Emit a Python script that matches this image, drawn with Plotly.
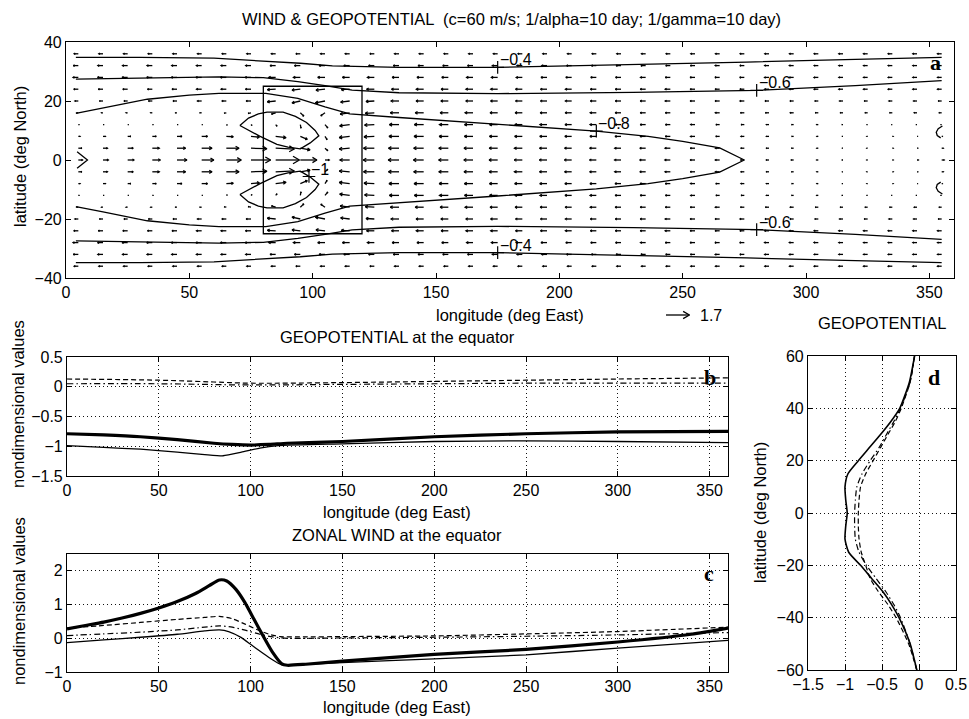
import math
import plotly.graph_objects as go
import plotly.figure_factory as ff

# ---------------------------------------------------------------- data
# wind vectors on the model grid (northern half; southern half is the mirror image)
GRID_LON = [5, 15, 25, 35, 45, 55, 65, 75, 85, 95, 105, 115, 125, 135, 145, 155, 165, 175,
            185, 195, 205, 215, 225, 235, 245, 255, 265, 275, 285, 295, 305, 315, 325, 335, 345, 355]
GRID_LAT_N = [0, 4, 8, 12, 16, 20, 24, 28, 32, 36]

U_N = [
    [0.30, 0.38, 0.47, 0.58, 0.72, 0.88, 1.08, 1.42, 1.72, 1.20, 0.30, -0.70, -0.80, -0.78, -0.74, -0.70, -0.66, -0.62,
     -0.58, -0.55, -0.52, -0.49, -0.46, -0.43, -0.39, -0.35, -0.31, -0.27, -0.22, -0.17, -0.12, -0.08, -0.06, 0.06, 0.10, 0.18],
    [0.25, 0.32, 0.40, 0.50, 0.62, 0.75, 0.92, 1.15, 1.35, 0.70, 0.20, -0.75, -0.78, -0.76, -0.72, -0.69, -0.65, -0.61,
     -0.57, -0.54, -0.51, -0.48, -0.45, -0.42, -0.38, -0.34, -0.30, -0.26, -0.21, -0.16, -0.11, -0.07, -0.06, 0.06, 0.08, 0.12],
    [0.12, 0.17, 0.22, 0.28, 0.35, 0.42, 0.50, 0.60, 0.75, 0.50, 0.15, -0.75, -0.74, -0.72, -0.69, -0.66, -0.62, -0.59,
     -0.55, -0.52, -0.49, -0.46, -0.43, -0.40, -0.36, -0.32, -0.28, -0.24, -0.19, -0.14, -0.10, -0.07, -0.06, 0.06, 0.06, 0.08],
    [0.07, 0.07, 0.07, 0.07, 0.07, 0.07, 0.07, 0.07, 0.10, 0.05, 0.20, -0.72, -0.70, -0.69, -0.67, -0.64, -0.61, -0.58,
     -0.54, -0.51, -0.48, -0.45, -0.42, -0.39, -0.35, -0.31, -0.27, -0.23, -0.19, -0.15, -0.11, -0.08, -0.07, -0.07, -0.07, -0.07],
    [-0.10, -0.11, -0.12, -0.12, -0.13, -0.14, -0.15, -0.20, -0.30, 0.25, -0.30, -0.68, -0.65, -0.63, -0.61, -0.59, -0.57, -0.55,
     -0.52, -0.49, -0.47, -0.44, -0.42, -0.39, -0.36, -0.34, -0.31, -0.28, -0.26, -0.24, -0.22, -0.21, -0.20, -0.20, -0.20, -0.20],
    [-0.25, -0.26, -0.27, -0.28, -0.29, -0.30, -0.30, -0.35, -0.60, -0.60, -0.70, -0.65, -0.60, -0.57, -0.55, -0.54, -0.52, -0.51,
     -0.49, -0.47, -0.45, -0.43, -0.41, -0.39, -0.37, -0.35, -0.33, -0.31, -0.29, -0.27, -0.26, -0.25, -0.25, -0.25, -0.25, -0.25],
    [-0.33, -0.34, -0.35, -0.35, -0.36, -0.37, -0.38, -0.40, -0.60, -0.60, -0.65, -0.60, -0.56, -0.54, -0.53, -0.52, -0.51, -0.50,
     -0.49, -0.47, -0.45, -0.43, -0.41, -0.39, -0.37, -0.35, -0.33, -0.32, -0.31, -0.30, -0.30, -0.30, -0.30, -0.30, -0.30, -0.30],
    [-0.38, -0.39, -0.40, -0.40, -0.41, -0.41, -0.42, -0.42, -0.50, -0.50, -0.52, -0.52, -0.50, -0.49, -0.48, -0.47, -0.46, -0.45,
     -0.44, -0.43, -0.42, -0.40, -0.39, -0.37, -0.36, -0.35, -0.34, -0.33, -0.32, -0.31, -0.31, -0.30, -0.30, -0.30, -0.30, -0.30],
    [-0.36, -0.37, -0.37, -0.38, -0.38, -0.38, -0.38, -0.38, -0.40, -0.42, -0.42, -0.42, -0.41, -0.41, -0.40, -0.40, -0.39, -0.38,
     -0.38, -0.37, -0.36, -0.35, -0.35, -0.34, -0.33, -0.33, -0.32, -0.32, -0.31, -0.31, -0.30, -0.30, -0.30, -0.30, -0.30, -0.30],
    [-0.30, -0.30, -0.30, -0.30, -0.30, -0.30, -0.30, -0.30, -0.31, -0.32, -0.32, -0.32, -0.32, -0.32, -0.32, -0.31, -0.31, -0.31,
     -0.31, -0.30, -0.30, -0.30, -0.30, -0.30, -0.30, -0.30, -0.30, -0.30, -0.30, -0.30, -0.30, -0.30, -0.30, -0.30, -0.30, -0.30],
]

# meridional wind is only noticeable around the heating; zero elsewhere
V_BLOCK_LON = [65, 75, 85, 95, 105, 115, 125]
V_BLOCK = [
    [0.00, 0.00, 0.00, 0.00, 0.00, 0.00, 0.00],
    [0.00, -0.03, -0.05, -0.10, -0.15, -0.05, 0.00],
    [-0.02, -0.05, -0.08, -0.18, -0.20, -0.07, -0.03],
    [-0.03, -0.05, -0.10, -0.22, -0.20, -0.08, -0.03],
    [-0.02, -0.03, -0.08, -0.20, -0.18, -0.08, -0.03],
    [0.00, 0.00, -0.05, -0.12, -0.12, -0.07, -0.03],
    [0.00, 0.00, -0.03, -0.06, -0.06, -0.03, 0.00],
    [0.00, 0.00, 0.00, 0.00, 0.00, 0.00, 0.00],
    [0.00, 0.00, 0.00, 0.00, 0.00, 0.00, 0.00],
    [0.00, 0.00, 0.00, 0.00, 0.00, 0.00, 0.00],
]
REF_WIND = 1.7

# heating region
HEAT_LON = [80, 120]
HEAT_LAT = [-25, 25]

# geopotential contours (northern branches, mirrored to the south)
C04_LON = [4, 30, 60, 81, 95, 108, 120, 135, 175, 230, 276, 320, 355]
C04_LAT = [34.8, 34.8, 34.5, 33.6, 32.8, 31.9, 31.6, 31.4, 31.4, 32.3, 33.2, 34.1, 34.8]
C06_LON = [4, 30, 62, 80, 94, 105, 116, 135, 175, 230, 280, 320, 355]
C06_LAT = [27.4, 27.8, 28.2, 27.9, 26.6, 25.2, 23.7, 22.8, 22.5, 22.9, 23.6, 25.2, 26.9]
C08_LON = [4, 15, 33, 50, 62, 81, 94, 105, 115, 135, 175, 215, 236, 250, 265, 275]
C08_LAT = [15.8, 17.6, 20.6, 22.0, 22.6, 22.6, 20.9, 18.0, 15.6, 14.4, 12.2, 9.8, 8.0, 6.3, 4.1, 0.0]
C08_TIP_LON = [4.5, 8.7, 4.5]
C08_TIP_LAT = [2.8, 0.0, -2.8]
C08_EDGE_LON = [355.3, 353.6, 352.8, 353.2, 354.6]
C08_EDGE_LAT = [11.5, 10.6, 9.4, 8.3, 7.5]
C10_LON = [70.5, 74, 78, 81.5, 88, 93, 97.5, 101, 102.5, 99, 95, 90, 85.5, 78.5, 70.5]
C10_LAT = [11.7, 14.2, 15.6, 16.2, 16.2, 14.8, 12.7, 10.0, 8.2, 5.8, 3.8, 4.4, 5.3, 8.1, 11.7]

# contour labels: (text, lon, lat)
CONTOUR_LABELS = [
    ("\u22120.4", 175, 31.4), ("\u22120.4", 175, -31.4),
    ("\u22120.6", 280, 23.6), ("\u22120.6", 280, -23.6),
    ("\u22120.8", 215, 9.8),
    ("\u22121", 98.5, -5.6),
]

# geopotential at the equator
B_LON_THICK = [0, 20, 40, 60, 80, 90, 100, 110, 120, 150, 200, 250, 300, 360]
B_THICK = [-0.79, -0.81, -0.84, -0.89, -0.95, -0.97, -0.98, -0.97, -0.95, -0.92, -0.84, -0.79, -0.76, -0.75]
B_LON_THIN = [0, 20, 40, 60, 75, 85, 95, 105, 115, 150, 200, 250, 300, 360]
B_THIN = [-0.99, -1.02, -1.05, -1.10, -1.14, -1.16, -1.10, -1.03, -0.99, -0.96, -0.92, -0.91, -0.92, -0.94]
B_LON_DASH = [0, 50, 80, 100, 150, 200, 250, 300, 360]
B_DASH = [0.13, 0.11, 0.08, 0.06, 0.07, 0.09, 0.11, 0.13, 0.15]
B_LON_DASHDOT = [0, 50, 100, 150, 200, 250, 300, 360]
B_DASHDOT = [0.05, 0.05, 0.03, 0.04, 0.05, 0.06, 0.06, 0.06]

# zonal wind at the equator
C_LON_THICK = [0, 10, 20, 30, 40, 50, 60, 70, 78, 83, 87, 92, 97, 102, 107, 112, 117, 120, 130, 150, 200, 250, 300, 340, 360]
C_THICK = [0.28, 0.38, 0.48, 0.60, 0.74, 0.90, 1.09, 1.33, 1.58, 1.73, 1.70, 1.45, 1.05, 0.55, 0.05, -0.42, -0.76, -0.80,
           -0.77, -0.68, -0.48, -0.33, -0.11, 0.12, 0.30]
C_LON_THIN = [0, 20, 40, 60, 75, 83, 88, 95, 100, 105, 110, 115, 118, 130, 150, 200, 250, 300, 360]
C_THIN = [-0.13, -0.05, 0.03, 0.12, 0.22, 0.25, 0.20, 0.02, -0.18, -0.38, -0.57, -0.74, -0.80, -0.77, -0.72, -0.61, -0.49, -0.29, -0.06]
C_LON_DASH = [0, 20, 40, 60, 75, 83, 90, 97, 103, 110, 116, 130, 150, 200, 250, 300, 360]
C_DASH = [0.30, 0.38, 0.47, 0.56, 0.62, 0.65, 0.58, 0.42, 0.27, 0.12, 0.05, 0.04, 0.05, 0.07, 0.13, 0.20, 0.33]
C_LON_DASHDOT = [0, 20, 40, 60, 75, 83, 90, 97, 105, 112, 120, 150, 200, 250, 300, 360]
C_DASHDOT = [0.08, 0.13, 0.18, 0.25, 0.33, 0.37, 0.33, 0.24, 0.12, 0.04, 0.00, 0.01, 0.03, 0.06, 0.10, 0.17]

# meridional geopotential profiles
D_LAT = [-60, -50, -40, -35, -30, -25, -20, -15, -10, -5, 0, 5, 10, 15, 20, 25, 30, 35, 40, 50, 60]
D_SOLID = [-0.03, -0.12, -0.27, -0.37, -0.49, -0.64, -0.79, -0.95, -1.00, -0.99, -0.97, -0.99, -1.00, -0.96, -0.82,
           -0.67, -0.52, -0.38, -0.26, -0.13, -0.06]
D_DASH = [-0.03, -0.14, -0.31, -0.42, -0.55, -0.66, -0.72, -0.78, -0.81, -0.82, -0.82, -0.81, -0.79, -0.72, -0.62,
          -0.52, -0.42, -0.32, -0.24, -0.12, -0.06]
D_DASHDOT = [-0.03, -0.12, -0.25, -0.34, -0.45, -0.58, -0.71, -0.81, -0.86, -0.87, -0.87, -0.86, -0.84, -0.77, -0.66,
             -0.54, -0.44, -0.34, -0.25, -0.12, -0.06]

# ---------------------------------------------------------------- layout helpers
W, H = 969, 719
FONT = "Liberation Sans, Arial, Helvetica, sans-serif"
SERIF = "Liberation Serif, Times New Roman, serif"
MINUS = "\u2212"
LABEL_SIZE = 16.5


def fx(p):
    return p / W


def fy(p):
    return 1 - p / H


def fmt(v):
    s = ("%g" % abs(v))
    return (MINUS + s) if v < 0 else s


def axis(px0, px1, rng, ticks, vertical=False, grid=False, anchor=None):
    dom = [fy(px1), fy(px0)] if vertical else [fx(px0), fx(px1)]
    return dict(
        domain=dom, range=rng, anchor=anchor, tickmode="array", tickvals=ticks, automargin=False,
        ticktext=[fmt(t) for t in ticks], ticks="inside", ticklen=5, tickwidth=1, tickcolor="black",
        showline=True, linecolor="black", linewidth=1.1, mirror="ticks",
        showgrid=grid, gridcolor="#111", gridwidth=0.9, griddash="1px,3px", zeroline=False,
        tickfont=dict(family=FONT, size=16, color="black"), fixedrange=True,
    )


fig = go.Figure()

# ---------------------------------------------------------------- panel a
qx, qy, qu, qv = [], [], [], []
for i, lat in enumerate(GRID_LAT_N):
    for sgn in ((1,) if lat == 0 else (1, -1)):
        for j, lon in enumerate(GRID_LON):
            vv = V_BLOCK[i][V_BLOCK_LON.index(lon)] if lon in V_BLOCK_LON else 0.0
            qx.append(lon)
            qy.append(sgn * lat)
            qu.append(U_N[i][j])
            qv.append(sgn * vv)

QSCALE = 5.6
ARROW_STYLE = dict(arrow_scale=0.3, angle=math.pi / 7, line=dict(color="black", width=1.3))
quiv = ff.create_quiver(qx, qy, qu, qv, scale=QSCALE, **ARROW_STYLE)
tr = quiv.data[0]
tr.update(xaxis="x", yaxis="y", showlegend=False, hoverinfo="skip")
fig.add_trace(tr)

line_c = dict(color="black", width=1.3)


def add_line(x, y, xa, ya, **kw):
    fig.add_trace(go.Scatter(x=x, y=y, mode="lines", xaxis=xa, yaxis=ya, showlegend=False,
                             hoverinfo="skip", **kw))


for lons, lats in ((C04_LON, C04_LAT), (C06_LON, C06_LAT)):
    add_line(lons, lats, "x", "y", line=line_c)
    add_line(lons, [-v for v in lats], "x", "y", line=line_c)
add_line(C08_LON + C08_LON[-2::-1], C08_LAT + [-v for v in C08_LAT[-2::-1]], "x", "y", line=line_c)
add_line(C08_TIP_LON, C08_TIP_LAT, "x", "y", line=line_c)
add_line(C08_EDGE_LON, C08_EDGE_LAT, "x", "y", line=line_c)
add_line(C08_EDGE_LON, [-v for v in C08_EDGE_LAT], "x", "y", line=line_c)
add_line(C10_LON, C10_LAT, "x", "y", line=line_c)
add_line(C10_LON, [-v for v in C10_LAT], "x", "y", line=line_c)

fig.add_trace(go.Scatter(
    x=[c[1] for c in CONTOUR_LABELS], y=[c[2] for c in CONTOUR_LABELS], mode="markers",
    marker=dict(symbol="cross-thin", size=9, line=dict(color="black", width=1.2)),
    xaxis="x", yaxis="y", showlegend=False, hoverinfo="skip"))

fig.add_shape(type="rect", xref="x", yref="y", x0=HEAT_LON[0], x1=HEAT_LON[1], y0=HEAT_LAT[0], y1=HEAT_LAT[1],
              line=dict(color="black", width=1.3))

# reference arrow on its own small axes with the same degrees-per-pixel scale
REF_BOX = (660, 305, 745, 325)
PX_PER_LON = (954 - 66) / 360.0
PX_PER_LAT = (278 - 42) / 80.0
ref = ff.create_quiver([(666 - REF_BOX[0]) / PX_PER_LON], [0.0], [REF_WIND], [0.0], scale=QSCALE, **ARROW_STYLE)
rtr = ref.data[0]
rtr.update(xaxis="x5", yaxis="y5", showlegend=False, hoverinfo="skip")
fig.add_trace(rtr)

# ---------------------------------------------------------------- panel b
add_line(B_LON_THICK, B_THICK, "x2", "y2", line=dict(color="black", width=3.2, shape="spline", smoothing=0.6))
add_line(B_LON_THIN, B_THIN, "x2", "y2", line=dict(color="black", width=1.3, shape="spline", smoothing=0.5))
add_line(B_LON_DASH, B_DASH, "x2", "y2", line=dict(color="black", width=1.2, dash="5px,3px", shape="spline"))
add_line(B_LON_DASHDOT, B_DASHDOT, "x2", "y2", line=dict(color="black", width=1.2, dash="6px,3px,1.5px,3px", shape="spline"))

# ---------------------------------------------------------------- panel c
add_line(C_LON_THICK, C_THICK, "x3", "y3", line=dict(color="black", width=3.2, shape="spline", smoothing=0.6))
add_line(C_LON_THIN, C_THIN, "x3", "y3", line=dict(color="black", width=1.3, shape="spline", smoothing=0.6))
add_line(C_LON_DASH, C_DASH, "x3", "y3", line=dict(color="black", width=1.2, dash="5px,3px", shape="spline", smoothing=0.6))
add_line(C_LON_DASHDOT, C_DASHDOT, "x3", "y3", line=dict(color="black", width=1.2, dash="6px,3px,1.5px,3px", shape="spline", smoothing=0.6))

# ---------------------------------------------------------------- panel d
add_line(D_SOLID, D_LAT, "x4", "y4", line=dict(color="black", width=1.6, shape="spline", smoothing=0.6))
add_line(D_DASH, D_LAT, "x4", "y4", line=dict(color="black", width=1.2, dash="5px,3px", shape="spline", smoothing=0.6))
add_line(D_DASHDOT, D_LAT, "x4", "y4", line=dict(color="black", width=1.2, dash="6px,3px,1.5px,3px", shape="spline", smoothing=0.6))

# ---------------------------------------------------------------- axes
layout = dict(
    template="none",
    width=W, height=H, margin=dict(l=0, r=0, t=0, b=0, autoexpand=False), paper_bgcolor="white", plot_bgcolor="white",
    showlegend=False, font=dict(family=FONT, size=16, color="black"),
    xaxis=axis(66, 954, [0, 360], [0, 50, 100, 150, 200, 250, 300, 350], anchor="y"),
    yaxis=axis(42, 278, [-40, 40], [-40, -20, 0, 20, 40], vertical=True, anchor="x"),
    xaxis2=axis(67, 728, [0, 360], [0, 50, 100, 150, 200, 250, 300, 350], grid=True, anchor="y2"),
    yaxis2=axis(357, 476, [-1.5, 0.5], [-1.5, -1, -0.5, 0, 0.5], vertical=True, grid=True, anchor="x2"),
    xaxis3=axis(67, 728, [0, 360], [0, 50, 100, 150, 200, 250, 300, 350], grid=True, anchor="y3"),
    yaxis3=axis(554, 672, [-1, 2.5], [-1, 0, 1, 2], vertical=True, grid=True, anchor="x3"),
    xaxis4=axis(808, 956, [-1.5, 0.5], [-1.5, -1, -0.5, 0, 0.5], grid=True, anchor="y4"),
    yaxis4=axis(356, 670, [-60, 60], [-60, -40, -20, 0, 20, 40, 60], vertical=True, grid=True, anchor="x4"),
    xaxis5=dict(domain=[fx(REF_BOX[0]), fx(REF_BOX[2])], range=[0, (REF_BOX[2] - REF_BOX[0]) / PX_PER_LON],
                visible=False, anchor="y5", fixedrange=True, automargin=False),
    yaxis5=dict(domain=[fy(REF_BOX[3]), fy(REF_BOX[1])],
                range=[-(REF_BOX[3] - REF_BOX[1]) / 2 / PX_PER_LAT, (REF_BOX[3] - REF_BOX[1]) / 2 / PX_PER_LAT],
                visible=False, anchor="x5", fixedrange=True, automargin=False),
)
fig.update_layout(**layout)


def note(text, x, y, size=LABEL_SIZE, family=FONT, angle=0, xanchor="center", yanchor="middle", **kw):
    fig.add_annotation(text=text, x=fx(x), y=fy(y), xref="paper", yref="paper", showarrow=False,
                       font=dict(family=family, size=size, color="black"), textangle=angle,
                       xanchor=xanchor, yanchor=yanchor, **kw)


NB = "\u00a0"
note("WIND & GEOPOTENTIAL " + NB + "(c=60 m/s; 1/alpha=10 day; 1/gamma=10 day)", 512, 19)
note("longitude (deg East)", 510, 315)
note("%g" % REF_WIND, 698, 315, xanchor="left", size=16)
note("latitude (deg North)", 20, 157, angle=-90)
note("GEOPOTENTIAL at the equator", 397, 337)
note("nondimensional values", 18, 404, angle=-90)
note("longitude (deg East)", 397, 512)
note("ZONAL WIND at the equator", 397, 535)
note("nondimensional values", 19, 601, angle=-90)
note("longitude (deg East)", 397, 707)
note("GEOPOTENTIAL", 882, 323)
note("latitude (deg North)", 760, 513, angle=-90)

for letter, x, y in (("a", 935, 62), ("b", 710, 378), ("c", 709, 573), ("d", 934, 378)):
    note("<b>%s</b>" % letter, x, y, size=22, family=SERIF)

for text, lon, lat in CONTOUR_LABELS:
    fig.add_annotation(text=text, x=lon, y=lat, xref="x", yref="y", showarrow=False,
                       xanchor="left", yanchor="bottom", xshift=0, yshift=-3,
                       font=dict(family=FONT, size=16, color="black"))

fig.write_html("out.html")
